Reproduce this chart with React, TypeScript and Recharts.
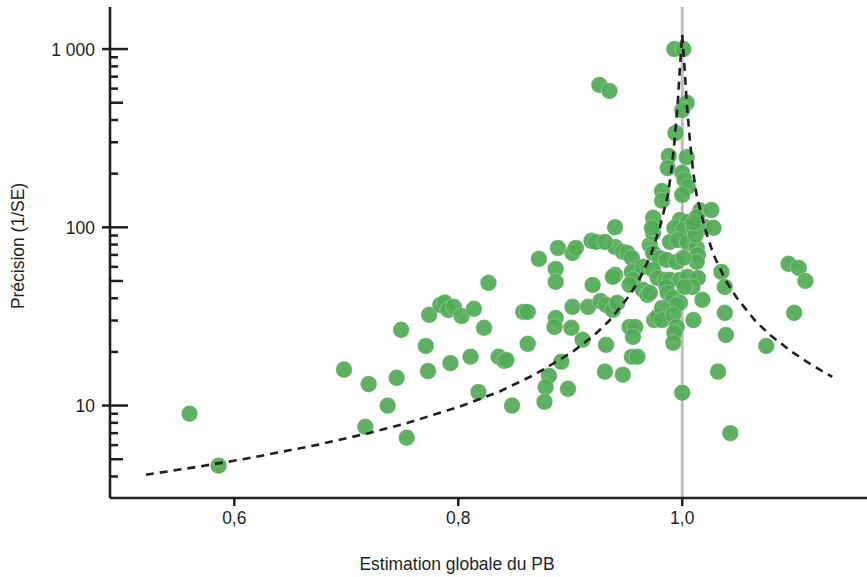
import React from "react";
import { ScatterChart, Scatter, XAxis, YAxis, ReferenceLine } from "recharts";

const FONT = '"Liberation Sans", Arial, sans-serif';
const INK = "#231f20";
const GREEN = "#53aa57";

// each study: [estimate, precision]
const studies: [number, number][] = [
  [0.560, 9.0], [0.586, 4.6], [0.698, 15.9], [0.720, 13.2], [0.717, 7.6],
  [0.737, 10.0], [0.745, 14.3], [0.754, 6.6], [0.749, 26.6], [0.771, 21.6],
  [0.773, 15.6], [0.774, 32.3], [0.784, 36.7], [0.788, 37.8], [0.791, 34.4],
  [0.796, 35.8], [0.803, 31.8], [0.793, 17.3], [0.814, 34.9], [0.823, 27.3],
  [0.811, 18.8], [0.827, 48.8], [0.818, 11.9], [0.836, 18.8], [0.841, 17.8],
  [0.843, 18.0], [0.848, 10.0], [0.858, 33.5], [0.862, 33.5], [0.862, 22.2],
  [0.872, 66.5], [0.889, 76.6], [0.887, 58.4], [0.887, 49.4], [0.902, 71.8],
  [0.905, 76.6], [0.919, 83.9], [0.923, 82.8], [0.920, 47.5], [0.902, 35.8],
  [0.916, 35.8], [0.887, 31.0], [0.886, 27.6], [0.901, 27.3], [0.911, 23.4],
  [0.892, 17.6], [0.881, 14.7], [0.878, 12.7], [0.877, 10.5], [0.898, 12.4],
  [0.927, 38.6], [0.932, 36.7], [0.938, 34.4], [0.942, 37.7], [0.931, 15.5],
  [0.947, 14.9], [0.932, 21.9], [0.940, 100], [0.940, 77.6], [0.947, 72.8],
  [0.951, 71.8], [0.955, 67.3], [0.971, 79.6], [0.974, 93.0], [0.940, 54.1],
  [0.938, 52.7], [0.955, 56.2], [0.956, 50.7], [0.953, 47.5], [0.965, 44.6],
  [0.969, 41.8], [0.971, 42.9], [0.953, 27.6], [0.958, 27.6], [0.956, 24.3],
  [0.955, 18.8], [0.960, 18.8], [0.975, 30.2], [0.978, 31.5], [0.926, 629],
  [0.935, 582], [0.993, 1000], [1.001, 1000], [1.004, 499], [1.000, 455],
  [0.994, 338], [0.988, 251], [1.004, 248], [0.987, 215], [0.982, 160],
  [1.000, 202], [1.002, 184], [1.005, 169], [1.000, 152], [0.982, 141],
  [1.016, 124], [1.026, 125], [0.974, 113], [0.973, 99.3], [0.998, 110],
  [1.005, 107], [1.013, 114], [0.993, 99.3], [1.001, 96.7], [1.010, 100.5],
  [1.020, 100.5], [1.028, 99.3], [0.931, 82.8], [0.974, 71.8], [0.989, 82.8],
  [0.996, 85], [1.005, 81.8], [1.013, 76.6], [1.014, 70.0], [1.013, 64],
  [0.980, 67.3], [0.986, 65.6], [0.995, 64], [1.001, 67.3], [0.965, 60],
  [0.974, 57.7], [0.978, 52], [0.985, 50.7], [0.989, 50.7], [0.998, 50.7],
  [1.005, 52.7], [1.014, 52], [1.009, 46.3], [1.002, 46.3], [0.986, 46.3],
  [0.987, 42.9], [0.992, 40.2], [0.998, 37.7], [0.995, 36.7], [1.018, 39.2],
  [0.982, 35.3], [0.982, 30.2], [0.992, 32.3], [0.995, 27.6], [0.993, 25.6],
  [0.992, 22.5], [1.010, 30.2], [1.035, 56.2], [1.038, 46.3], [1.038, 33.1],
  [1.039, 24.9], [1.032, 15.5], [1.000, 11.8], [1.043, 7.0], [1.075, 21.6],
  [1.095, 62.4], [1.104, 59.2], [1.110, 50], [1.100, 33.1], [1.012, 90.6],
  [1.010, 106],
];

// dashed funnel
const funnelLeft: [number, number][] = [
  [0.521, 4.09], [0.564, 4.5], [0.608, 5], [0.673, 6], [0.720, 7], [0.755, 8],
  [0.804, 10], [0.837, 12], [0.869, 15], [0.902, 20], [0.922, 25], [0.935, 30],
  [0.951, 40], [0.961, 50], [0.972, 70], [0.980, 100], [0.987, 150], [0.990, 200],
  [0.993, 300], [0.996, 500], [0.998, 800], [1.0, 1200],
];
const funnelRight: [number, number][] = [
  [1.0, 1200], [1.002, 800], [1.004, 500], [1.007, 300], [1.010, 200], [1.013, 150],
  [1.020, 100], [1.028, 70], [1.039, 50], [1.049, 40], [1.065, 30], [1.078, 25],
  [1.098, 20], [1.115, 17], [1.134, 14.5],
];

const xTicks = [0.6, 0.8, 1.0];
const xTickLabels = ["0,6", "0,8", "1,0"];
const yTicks = [
  4, 5, 6, 7, 8, 9, 10, 20, 30, 40, 50, 60, 70, 80, 90, 100,
  200, 300, 400, 500, 600, 700, 800, 900, 1000,
];
const yMajor = [10, 100, 1000];
const yMajorLabels = ["10", "100", "1 000"];

const toPoints = (arr: [number, number][]) => arr.map(([x, y]) => ({ x, y }));

// condensed look: Liberation Sans squeezed horizontally
function Txt({ x, y, anchor, rotate, dy, children }: any) {
  const rot = rotate ? ` rotate(${rotate})` : "";
  return (
    <text
      transform={`translate(${x} ${y})${rot} scale(0.92 1)`}
      dy={dy}
      textAnchor={anchor}
      fontSize={19}
      fill={INK}
      fontFamily={FONT}
    >
      {children}
    </text>
  );
}

function YTick(props: any) {
  const { x, y, payload } = props;
  const v = payload.value;
  const i = yMajor.indexOf(v);
  let x1 = x;
  let x2 = x + 8;
  if (i >= 0) {
    x1 = x - 8;
    x2 = x + 18;
  } else if (String(v)[0] === "5") {
    x2 = x + 13;
  }
  return (
    <g>
      <line x1={x1} x2={x2} y1={y} y2={y} stroke={INK} strokeWidth={2.5} />
      {i >= 0 && (
        <Txt x={x - 15} y={y} dy="0.36em" anchor="end">
          {yMajorLabels[i]}
        </Txt>
      )}
    </g>
  );
}

function XTick(props: any) {
  const { x, y, payload } = props;
  const i = xTicks.indexOf(payload.value);
  return (
    <g>
      <line x1={x} x2={x} y1={y} y2={y + 8} stroke={INK} strokeWidth={2.5} />
      <Txt x={x} y={y + 26} anchor="middle">
        {xTickLabels[i]}
      </Txt>
    </g>
  );
}

const Dot = (p: any) => (
  <circle cx={p.cx} cy={p.cy} r={8.3} fill={GREEN} fillOpacity={0.93} stroke="#ffffff" strokeOpacity={0.35} strokeWidth={0.8} />
);
const NoDot = () => <g />;

export default function App() {
  return (
    <div style={{ position: "absolute", left: 0, top: 0 }}>
      <ScatterChart width={867} height={577} margin={{ top: 7, right: 0, bottom: 0, left: 0 }} style={{ fontFamily: FONT }}>
        <XAxis
          type="number"
          dataKey="x"
          domain={[0.489, 1.165]}
          allowDataOverflow
          ticks={xTicks}
          interval={0}
          height={79}
          tickSize={0}
          tickMargin={0}
          tickLine={false}
          axisLine={{ stroke: INK, strokeWidth: 2.6 }}
          tick={<XTick />}
          label={{
            value: "Estimation globale du PB",
            content: () => (
              <Txt x={457} y={570} anchor="middle">
                Estimation globale du PB
              </Txt>
            ),
          }}
        />
        <YAxis
          type="number"
          dataKey="y"
          scale="log"
          domain={[3.03, 1722]}
          allowDataOverflow
          ticks={yTicks}
          interval={0}
          width={110}
          tickSize={0}
          tickMargin={0}
          tickLine={false}
          axisLine={{ stroke: INK, strokeWidth: 2.6 }}
          tick={<YTick />}
          label={{
            value: "Précision (1/SE)",
            content: () => (
              <Txt x={24} y={246} rotate={-90} anchor="middle">
                Précision (1/SE)
              </Txt>
            ),
          }}
        />
        <ReferenceLine x={1} stroke="#bcbcc0" strokeWidth={3} />
        <Scatter data={toPoints(studies)} shape={Dot} isAnimationActive={false} />
        <Scatter
          data={toPoints(funnelLeft)}
          shape={NoDot}
          line={{ stroke: INK, strokeWidth: 2.6, strokeDasharray: "8 6" }}
          isAnimationActive={false}
        />
        <Scatter
          data={toPoints(funnelRight)}
          shape={NoDot}
          line={{ stroke: INK, strokeWidth: 2.6, strokeDasharray: "8 6" }}
          isAnimationActive={false}
        />
      </ScatterChart>
    </div>
  );
}
